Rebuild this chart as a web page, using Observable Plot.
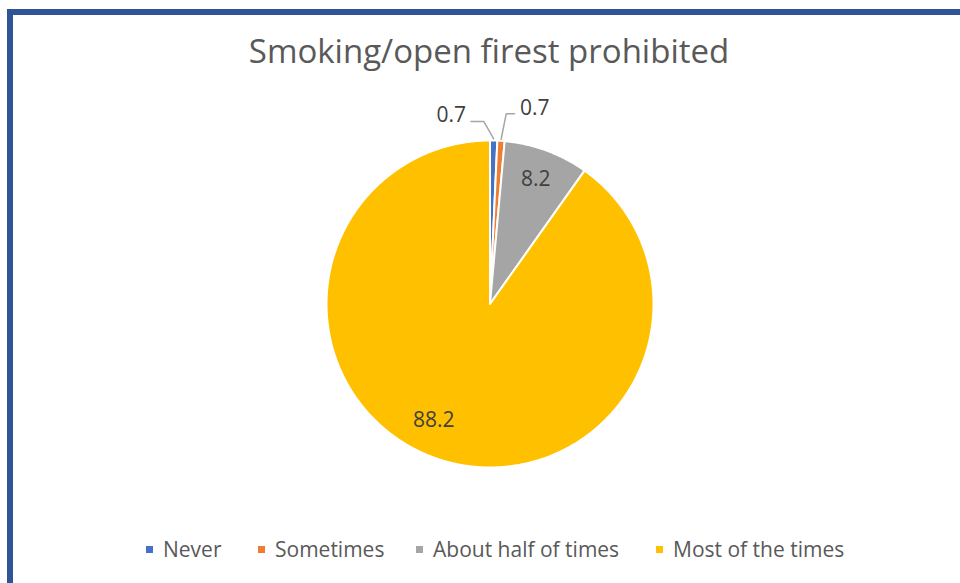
<!DOCTYPE html>
<html>
<head>
<meta charset="utf-8">
<script src="https://cdn.jsdelivr.net/npm/d3@7"></script>
<script src="https://cdn.jsdelivr.net/npm/@observablehq/plot@0.6"></script>
<style>
  html, body { margin: 0; padding: 0; background: #fff; }
  #wrap { position: relative; width: 960px; height: 583px; overflow: hidden; font-family: "Open Sans", sans-serif; }
  #frame { position: absolute; left: 7px; top: 9px; width: 1200px; height: 1200px; border-top: 6px solid #2F5597; border-left: 6px solid #2F5597; box-sizing: border-box; }
  #title { position: absolute; left: 0; width: 978px; text-align: center; font-size: 33px; line-height: 33px; color: #595959; white-space: nowrap; }
  #chart { position: absolute; left: 0; top: 0; }
  .lg { position: absolute; font-size: 21px; line-height: 21px; color: #595959; white-space: nowrap; }
  .sw { position: absolute; width: 7px; height: 7px; }
</style>
</head>
<body>
<div id="wrap">
  <div id="frame"></div>
  <div id="chart"></div>
  <div id="title">Smoking/open firest prohibited</div>
  <div id="legend"></div>
</div>
<script>
// ---- data ----
const categories = ["Never", "Sometimes", "About half of times", "Most of the times"];
const values = [0.7, 0.7, 8.2, 88.2];
const labels = ["0.7", "0.7", "8.2", "88.2"];
const colors = ["#4472C4", "#ED7D31", "#A5A5A5", "#FFC000"];

// ---- geometry from the data ----
const arcs = d3.pie().sort(null).value(d => d)(values);
const slices = arcs.map((a, i) => ({cat: categories[i], value: values[i], label: labels[i], a0: a.startAngle, a1: a.endAngle, mid: (a.startAngle + a.endAngle) / 2}));

const pts = [];
for (const s of slices) {
  pts.push({cat: s.cat, x: 0, y: 0});
  const n = Math.max(2, Math.ceil((s.a1 - s.a0) / (Math.PI / 360)));
  for (let k = 0; k <= n; k++) {
    const a = s.a0 + (s.a1 - s.a0) * k / n;
    pts.push({cat: s.cat, x: Math.sin(a), y: Math.cos(a)});
  }
  pts.push({cat: s.cat, x: 0, y: 0});
}

// inside labels (best-fit placement)
const inside = slices.filter(s => s.value >= 2).map(s => {
  const shift = s.value > 50 ? 8.2 * Math.PI / 180 : 0;
  const r = s.value > 50 ? 0.79 : 0.81;
  return {label: s.label, x: r * Math.sin(s.mid + shift), y: r * Math.cos(s.mid + shift)};
});

// outside labels with leader lines for tiny slices
const small = slices.filter(s => s.value < 2);
const leaders = [];
const outside = [];
small.forEach((s, j) => {
  const ax = 1.01 * Math.sin(s.mid), ay = 1.01 * Math.cos(s.mid);
  const left = j === 0;
  const ey = left ? 1.116 : 1.163;
  const ex = left ? ax - 0.06 : ax + 0.031;
  const sx = left ? ex - 0.079 : ex + 0.051;
  leaders.push({cat: s.cat, x: sx, y: ey}, {cat: s.cat, x: ex, y: ey}, {cat: s.cat, x: ax, y: ay});
  outside.push({label: s.label, x: left ? sx - 0.12 : sx + 0.123, y: left ? 1.156 : 1.2});
});

const chart = Plot.plot({
  width: 960,
  height: 583,
  marginLeft: 326,
  marginRight: 307,
  marginTop: 140,
  marginBottom: 116,
  x: {domain: [-1, 1], axis: null},
  y: {domain: [-1, 1], axis: null},
  color: {domain: categories, range: colors},
  style: {fontFamily: "Open Sans, sans-serif", background: "transparent", overflow: "visible"},
  marks: [
    Plot.line(pts, {x: "x", y: "y", z: "cat", fill: "cat", stroke: "white", strokeWidth: 2, strokeLinejoin: "round", curve: "linear"}),
    Plot.line(leaders, {x: "x", y: "y", z: "cat", stroke: "#A6A6A6", strokeWidth: 1.5, curve: "linear"}),
    Plot.text(inside, {x: "x", y: "y", text: "label", fill: "#404040", fontSize: 21, lineAnchor: "middle"}),
    Plot.text(outside, {x: "x", y: "y", text: "label", fill: "#404040", fontSize: 21, lineAnchor: "middle"})
  ]
});
document.getElementById("chart").appendChild(chart);

// title: baseline near y=63
document.getElementById("title").style.top = (63 - 0.888 * 33) + "px";

// legend
const legendSquares = [146, 258, 416, 656];
const legend = document.getElementById("legend");
categories.forEach((c, i) => {
  const sw = document.createElement("div");
  sw.className = "sw";
  sw.style.left = legendSquares[i] + "px";
  sw.style.top = "545.5px";
  sw.style.background = colors[i];
  legend.appendChild(sw);
  const t = document.createElement("div");
  t.className = "lg";
  t.textContent = c;
  t.style.left = (legendSquares[i] + 17) + "px";
  t.style.top = (557.3 - 0.888 * 21) + "px";
  legend.appendChild(t);
});
</script>
</body>
</html>
